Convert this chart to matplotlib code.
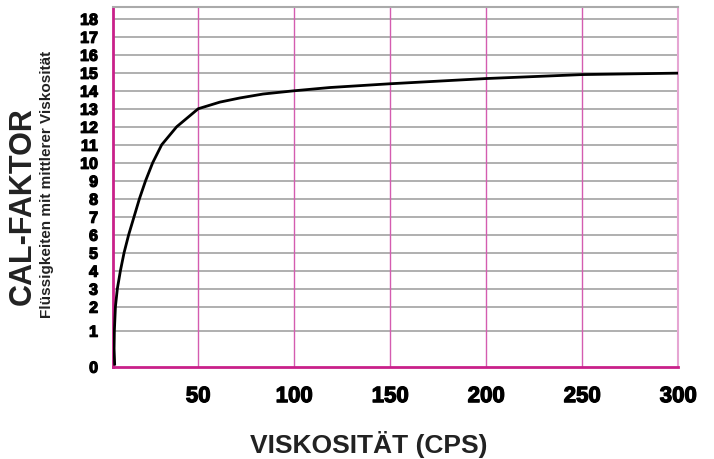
import numpy as np
import matplotlib
matplotlib.use("Agg")
import matplotlib.pyplot as plt
import matplotlib.patheffects as pe

plt.rcParams['font.family'] = ['Liberation Sans', 'DejaVu Sans']

# kurve (viskosität -> cal-faktor)
viskositaet = [6.5, 6.2, 6.35, 6.9, 7.9, 9.5, 11.4, 13.8, 16.6, 19.4, 22.6, 26.3, 31, 38.8,
               50, 61.3, 71.7, 83.8, 100, 118.5, 150, 200, 250, 300]
cal_faktor = [0.07, 0.5, 1.0, 2.0, 3.0, 4.0, 5.0, 6.0, 7.0, 8.0, 9.0, 10.0, 11.0, 12.0,
              13.0, 13.37, 13.6, 13.82, 14.0, 14.18, 14.39, 14.68, 14.9, 14.98]

x_ticks = [50, 100, 150, 200, 250, 300]
y_ticks = list(range(0, 19))

# ungleichmaessige y-achse: 0-1 und 1-2 sind gedehnt
knoten_wert = [0, 1, 2, 20]
knoten_pos = [0, 36, 60, 60 + 18 * 18]

def vorwaerts(v):
    return np.interp(v, knoten_wert, knoten_pos)

def rueckwaerts(p):
    return np.interp(p, knoten_pos, knoten_wert)

magenta = '#c9208a'
pink = '#d45cb0'
fett = [pe.withStroke(linewidth=0.9, foreground='black')]

fig = plt.figure(figsize=(7.14, 4.6), dpi=100, facecolor='white')
ax = fig.add_axes([0.1587, 0.2007, 0.7913, 0.7813])
ax.set_yscale('function', functions=(vorwaerts, rueckwaerts))
ax.set_xlim(5.8, 300)
ax.set_ylim(0, 18.64)

# gitterlinien
for y in y_ticks[1:]:
    ax.axhline(y, color='#9a9a9a', lw=1.1, zorder=1)
for x in x_ticks:
    ax.axvline(x, color=pink, lw=1.0, zorder=1)

ax.plot(viskositaet, cal_faktor, color='black', lw=2, zorder=3, solid_joinstyle='round')

ax.spines['left'].set_color(magenta)
ax.spines['left'].set_linewidth(2)
ax.spines['bottom'].set_color(magenta)
ax.spines['bottom'].set_linewidth(2)
ax.spines['top'].set_color('#aaaaaa')
ax.spines['top'].set_linewidth(1.5)
ax.spines['right'].set_color('#e6a6d3')
ax.spines['right'].set_linewidth(1.5)

ax.set_xticks(x_ticks)
ax.set_xticklabels([str(v) for v in x_ticks], fontsize=16, fontweight='bold', path_effects=fett)
ax.set_yticks(y_ticks)
ax.set_yticklabels([str(v) for v in y_ticks], fontsize=11.5, fontweight='bold', path_effects=fett)
ax.tick_params(axis='both', length=0)
ax.tick_params(axis='x', pad=14)
ax.tick_params(axis='y', pad=11)
ax.yaxis.set_minor_locator(matplotlib.ticker.NullLocator())

fig.text(369 / 714, 1 - 445 / 460, 'VISKOSITÄT (CPS)', fontsize=19, fontweight='bold',
         color='#222222', ha='center', va='center')
fig.text(23 / 714, 1 - 206 / 460, 'CAL-FAKTOR', fontsize=22, fontweight='bold',
         color='#222222', rotation=90, ha='center', va='center')
fig.text(47.5 / 714, 1 - 184 / 460, 'Flüssigkeiten mit mittlerer Viskosität', fontsize=11,
         fontweight='bold', color='#222222', rotation=90, ha='center', va='center')

fig.savefig('out.png', dpi=100)
